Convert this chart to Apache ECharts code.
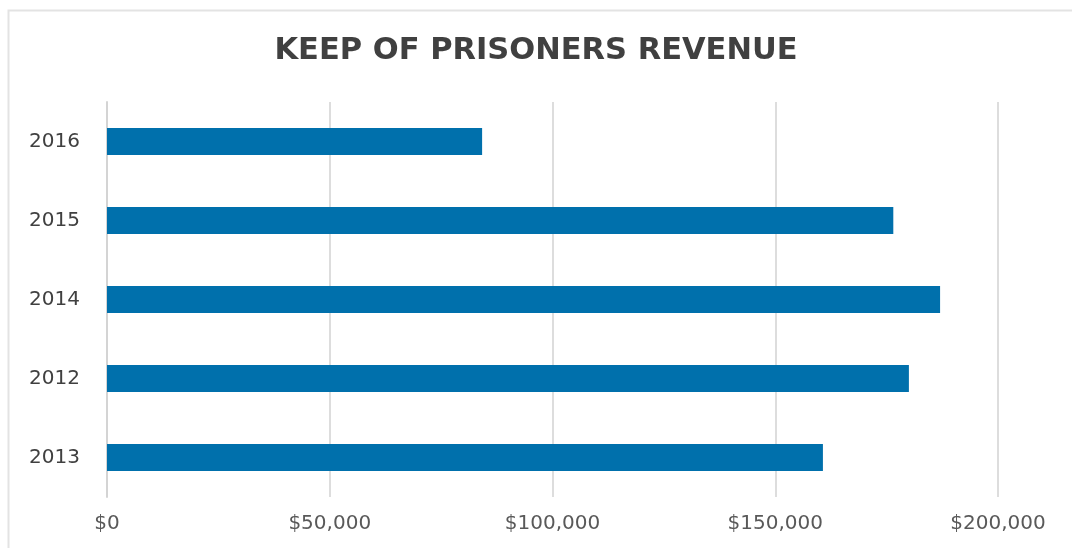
<!DOCTYPE html>
<html>
<head>
<meta charset="utf-8">
<script src="https://cdn.jsdelivr.net/npm/echarts@6/dist/echarts.min.js"></script>
<style>
  html, body { margin: 0; padding: 0; background: #ffffff; }
  #chart { width: 1072px; height: 548px; }
</style>
</head>
<body>
<div id="chart"></div>
<script>
// Years, listed bottom to top as they appear on the vertical axis
const years = ['2013', '2012', '2014', '2015', '2016'];
// Revenue from keeping prisoners, in dollars
const revenue = [160700, 180000, 187000, 176500, 84200];
// Horizontal axis range and step
const axisMin = 0;
const axisMax = 200000;
const axisStep = 50000;

const chart = echarts.init(document.getElementById('chart'));

function money(v) {
  return '$' + v.toLocaleString('en-US');
}

chart.setOption({
  animation: false,
  backgroundColor: '#ffffff',
  title: {
    text: 'KEEP OF PRISONERS REVENUE',
    left: 'center',
    top: 31,
    textStyle: {
      fontFamily: 'DejaVu Sans',
      fontWeight: 'bold',
      fontSize: 30.5,
      color: '#404040'
    }
  },
  graphic: [{
    type: 'rect',
    shape: { x: 8.5, y: 10.5, width: 1080, height: 560 },
    style: { fill: 'none', stroke: '#e3e3e3', lineWidth: 2 },
    silent: true
  }],
  grid: { left: 107, right: 74, top: 102, bottom: 51 },
  xAxis: {
    type: 'value',
    min: axisMin,
    max: axisMax,
    interval: axisStep,
    axisLine: { show: false },
    axisTick: { show: false },
    splitLine: { show: true, lineStyle: { color: '#dddddd', width: 2 } },
    axisLabel: {
      formatter: money,
      margin: 17,
      fontFamily: 'DejaVu Sans',
      fontSize: 20,
      color: '#595959'
    }
  },
  yAxis: {
    type: 'category',
    data: years,
    axisLine: { show: true, lineStyle: { color: '#d4d4d4', width: 2 } },
    axisTick: { show: false },
    axisLabel: {
      margin: 27,
      fontFamily: 'DejaVu Sans',
      fontSize: 20,
      color: '#404040'
    }
  },
  series: [{
    type: 'bar',
    data: revenue,
    barWidth: 27,
    itemStyle: { color: '#0070ac' }
  }]
});
</script>
</body>
</html>
